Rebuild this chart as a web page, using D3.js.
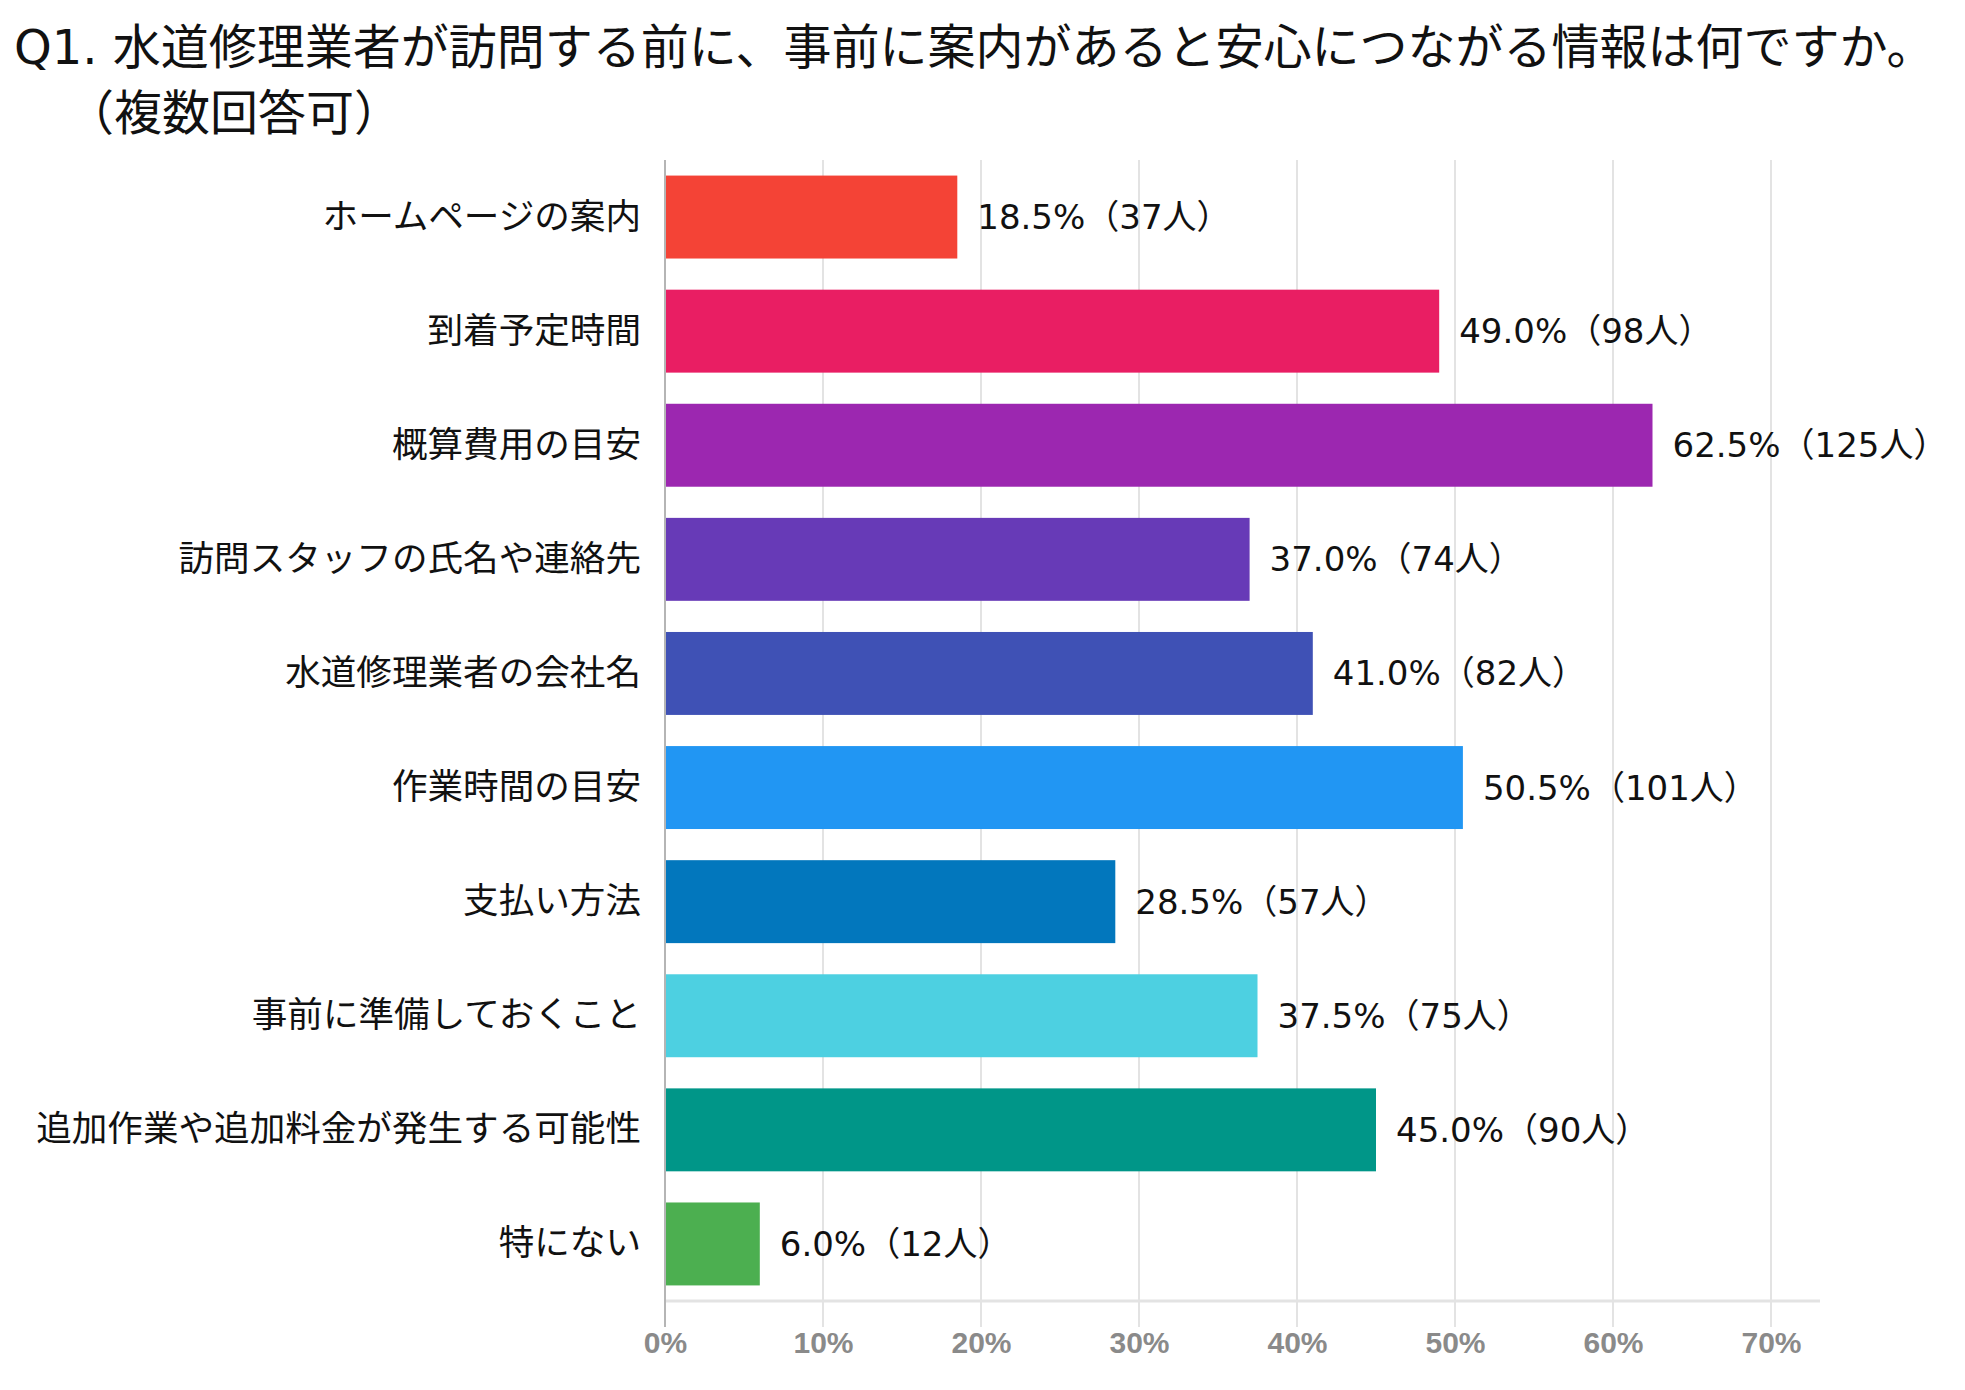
<!DOCTYPE html>
<html>
<head>
<meta charset="utf-8">
<script src="https://cdn.jsdelivr.net/npm/d3@7"></script>
<style>
  body { margin: 0; background: #fff; }
  svg { display: block; }
</style>
</head>
<body>
<svg id="chart"></svg>
<script>
// data
const titleLines = ['Q1. 水道修理業者が訪問する前に、事前に案内があると安心につながる情報は何ですか。', '（複数回答可）'];
const categories = [
    'ホームページの案内',
    '到着予定時間',
    '概算費用の目安',
    '訪問スタッフの氏名や連絡先',
    '水道修理業者の会社名',
    '作業時間の目安',
    '支払い方法',
    '事前に準備しておくこと',
    '追加作業や追加料金が発生する可能性',
    '特にない'
];
const percents = [18.5, 49.0, 62.5, 37.0, 41.0, 50.5, 28.5, 37.5, 45.0, 6.0];
const counts = [37, 98, 125, 74, 82, 101, 57, 75, 90, 12];
const colors = ['#F44336', '#E91E63', '#9C27B0', '#673AB7', '#3F51B5',
                '#2196F3', '#0277BD', '#4DD0E1', '#009688', '#4CAF50'];
const tickValues = [0, 10, 20, 30, 40, 50, 60, 70];

const width = 1965, height = 1390;
const labelFont = '"Noto Sans CJK JP", sans-serif';
const wideFont = '"DejaVu Sans", "Noto Sans CJK JP", sans-serif';
const tickFont = '"Liberation Sans", sans-serif';

const svg = d3.select('#chart')
    .attr('width', width)
    .attr('height', height);

const rows = categories.map((c, i) => ({
    name: c,
    pct: percents[i],
    n: counts[i],
    color: colors[i]
}));

let x = d3.scaleLinear()
    .domain([0, 70])
    .range([665, 1771]);

let y = d3.scaleBand()
    .domain(categories)
    .range([160, 1301])
    .paddingInner(0.273)
    .paddingOuter(0.1365);

// title
svg.append('g')
    .selectAll('text')
    .data(titleLines)
    .join('text')
    .attr('x', (d, i) => i === 0 ? 14 : 66)
    .attr('y', (d, i) => i === 0 ? 64 : 130)
    .attr('font-family', wideFont)
    .attr('font-size', 48)
    .attr('fill', '#111')
    .text(d => d);

// gridlines
const bottom = y.range()[1];
svg.append('g')
    .selectAll('line')
    .data(tickValues.filter(d => d > 0))
    .join('line')
    .attr('x1', d => x(d))
    .attr('x2', d => x(d))
    .attr('y1', y.range()[0])
    .attr('y2', bottom + 26)
    .attr('stroke', '#e3e3e3')
    .attr('stroke-width', 2);

// baseline
svg.append('line')
    .attr('x1', x(0))
    .attr('x2', x(73.1))
    .attr('y1', bottom)
    .attr('y2', bottom)
    .attr('stroke', '#e3e3e3')
    .attr('stroke-width', 3);

// bars
svg.append('g')
    .selectAll('rect')
    .data(rows)
    .join('rect')
    .attr('x', x(0))
    .attr('y', d => y(d.name))
    .attr('width', d => x(d.pct) - x(0))
    .attr('height', y.bandwidth())
    .attr('fill', d => d.color);

// zero axis line
svg.append('line')
    .attr('x1', x(0))
    .attr('x2', x(0))
    .attr('y1', y.range()[0])
    .attr('y2', bottom + 26)
    .attr('stroke', '#b5b5b5')
    .attr('stroke-width', 2);

// category labels
svg.append('g')
    .selectAll('text')
    .data(rows)
    .join('text')
    .attr('x', x(0) - 24)
    .attr('y', d => y(d.name) + y.bandwidth() / 2 - 4)
    .attr('text-anchor', 'end')
    .attr('dominant-baseline', 'central')
    .attr('font-family', labelFont)
    .attr('font-size', 35.6)
    .attr('fill', '#111')
    .text(d => d.name);

// value labels
svg.append('g')
    .selectAll('text')
    .data(rows)
    .join('text')
    .attr('x', d => x(d.pct) + 20)
    .attr('y', d => y(d.name) + y.bandwidth() / 2)
    .attr('dominant-baseline', 'central')
    .attr('font-family', wideFont)
    .attr('font-size', 34)
    .attr('fill', '#111')
    .text(d => `${d.pct.toFixed(1)}%（${d.n}人）`);

// x axis labels
const axis = d3.axisBottom(x)
    .tickValues(tickValues)
    .tickFormat(d => d + '%')
    .tickSize(0)
    .tickPadding(0);

const axisG = svg.append('g')
    .attr('transform', `translate(0,${bottom + 30})`)
    .call(axis);

axisG.select('.domain').remove();
axisG.selectAll('text')
    .attr('dy', '0.72em')
    .attr('font-family', tickFont)
    .attr('font-size', 30)
    .attr('font-weight', 'bold')
    .attr('fill', '#8a8a8a');
</script>
</body>
</html>
